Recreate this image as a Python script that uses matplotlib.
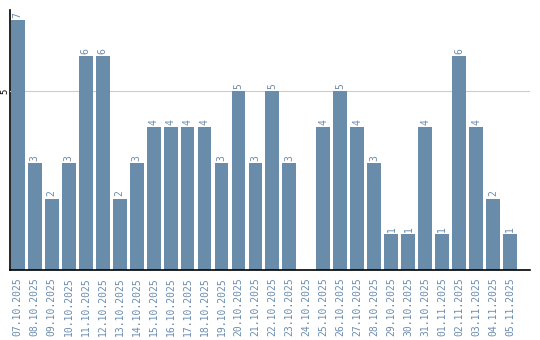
import numpy as np
import matplotlib.pyplot as plt

dates = ["07.10.2025", "08.10.2025", "09.10.2025", "10.10.2025", "11.10.2025",
         "12.10.2025", "13.10.2025", "14.10.2025", "15.10.2025", "16.10.2025",
         "17.10.2025", "18.10.2025", "19.10.2025", "20.10.2025", "21.10.2025",
         "22.10.2025", "23.10.2025", "24.10.2025", "25.10.2025", "26.10.2025",
         "27.10.2025", "28.10.2025", "29.10.2025", "30.10.2025", "31.10.2025",
         "01.11.2025", "02.11.2025", "03.11.2025", "04.11.2025", "05.11.2025"]
counts = [7, 3, 2, 3, 6, 6, 2, 3, 4, 4, 4, 4, 3, 5, 3, 5, 3, 0, 4, 5, 4, 3, 1, 1, 4, 1, 6, 4, 2, 1]

bar_color = "#6a8cab"
txt_color = "#6a8cb0"

fig = plt.figure(figsize=(5.4, 3.4), dpi=100)
ax = fig.add_axes([10/540, 70/340, 520/540, 260/340])

x = np.arange(len(dates))
ax.bar(x, counts, width=0.82, color=bar_color, zorder=3)
for xi, c in zip(x, counts):
    if c > 0:
        ax.text(xi, c + 0.06, str(c), rotation=90, ha="center", va="bottom",
                fontsize=7, color=txt_color, family="DejaVu Sans Mono", zorder=4)

ax.set_xlim(-0.45, 30.16)
ax.set_ylim(0, 7.28)
ax.set_yticks([5])
ax.set_yticklabels(["5"], rotation=90, va="center", fontsize=6.5, family="DejaVu Sans Mono")
ax.yaxis.grid(True, color="#cccccc", linewidth=0.8, zorder=0)
ax.tick_params(axis="y", length=0, pad=0.5)

ax.set_xticks(x)
ax.set_xticklabels(dates, rotation=90, fontsize=7, color=txt_color, family="DejaVu Sans Mono")
ax.tick_params(axis="x", length=0, pad=5)

for s in ["top", "right"]:
    ax.spines[s].set_visible(False)
ax.spines["bottom"].set_linewidth(1.2)
ax.spines["left"].set_linewidth(1.2)
ax.spines["left"].set_zorder(1)
ax.spines["bottom"].set_zorder(5)

fig.savefig("out.png", dpi=100)
